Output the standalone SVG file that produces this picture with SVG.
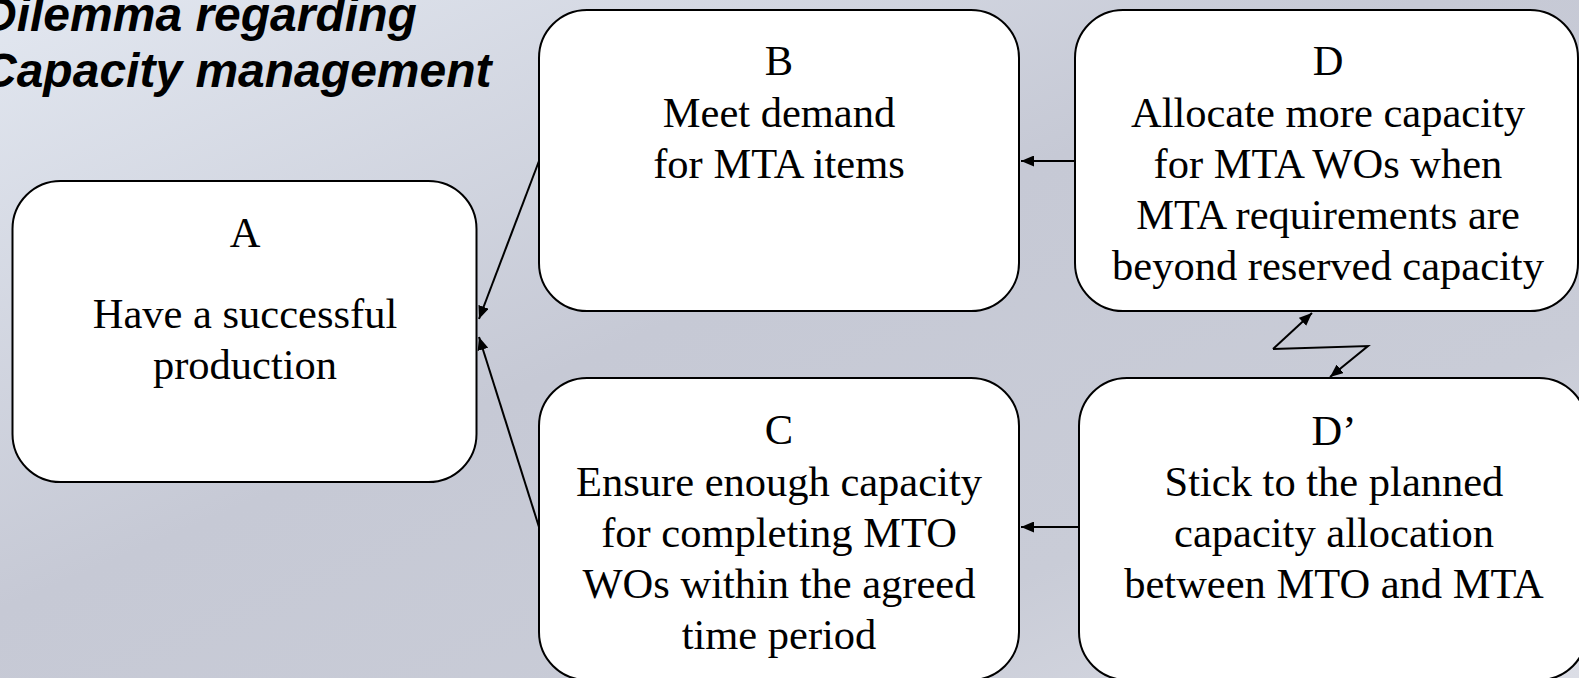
<svg xmlns="http://www.w3.org/2000/svg" width="1579" height="678" viewBox="0 0 1579 678">
  <defs>
    <linearGradient id="bg" x1="0" y1="0" x2="1" y2="1">
      <stop offset="0" stop-color="#e2e7f0"/>
      <stop offset="0.45" stop-color="#c6c9d5"/>
      <stop offset="0.75" stop-color="#c9ccd7"/>
      <stop offset="1" stop-color="#dcdee6"/>
    </linearGradient>
    <marker id="arrow" viewBox="0 0 13 11" refX="13" refY="5.5" markerWidth="13" markerHeight="11" markerUnits="userSpaceOnUse" orient="auto">
      <path d="M0,0 L13,5.5 L0,11 Z" fill="#000"/>
    </marker>
  </defs>
  <style>
    .box { fill: #ffffff; stroke: #000000; stroke-width: 2; }
    .lbl { font-family: "Liberation Serif", "Times New Roman", serif; font-size: 42.5px; fill: #000; text-anchor: middle; }
    .title { font-family: "Liberation Sans", Arial, sans-serif; font-size: 48px; font-weight: bold; font-style: italic; fill: #000; }
    .conn { fill: none; stroke: #000; stroke-width: 2; marker-end: url(#arrow); }
  </style>

  <rect width="1579" height="678" fill="url(#bg)"/>

  <g id="title">
    <text class="title" x="-18" y="31">Dilemma regarding</text>
    <text class="title" x="-18" y="87">Capacity management</text>
  </g>

  <g id="node-A">
    <rect class="box" x="12.5" y="181" width="464" height="301" rx="48" ry="48"/>
    <text class="lbl" x="245" y="247">A</text>
    <text class="lbl" x="245" y="328">Have a successful</text>
    <text class="lbl" x="245" y="379">production</text>
  </g>

  <g id="node-B">
    <rect class="box" x="539" y="10" width="480" height="301" rx="48" ry="48"/>
    <text class="lbl" x="779" y="75">B</text>
    <text class="lbl" x="779" y="127">Meet demand</text>
    <text class="lbl" x="779" y="178">for MTA items</text>
  </g>

  <g id="node-C">
    <rect class="box" x="539" y="378" width="480" height="302" rx="48" ry="48"/>
    <text class="lbl" x="779" y="444">C</text>
    <text class="lbl" x="779" y="496">Ensure enough capacity</text>
    <text class="lbl" x="779" y="547">for completing MTO</text>
    <text class="lbl" x="779" y="598">WOs within the agreed</text>
    <text class="lbl" x="779" y="649">time period</text>
  </g>

  <g id="node-D">
    <rect class="box" x="1075" y="10" width="503" height="301" rx="48" ry="48"/>
    <text class="lbl" x="1328" y="75">D</text>
    <text class="lbl" x="1328" y="127">Allocate more capacity</text>
    <text class="lbl" x="1328" y="178">for MTA WOs when</text>
    <text class="lbl" x="1328" y="229">MTA requirements are</text>
    <text class="lbl" x="1328" y="280">beyond reserved capacity</text>
  </g>

  <g id="node-D-prime">
    <rect class="box" x="1079" y="378" width="508" height="302" rx="48" ry="48"/>
    <text class="lbl" x="1334" y="445">D’</text>
    <text class="lbl" x="1334" y="496">Stick to the planned</text>
    <text class="lbl" x="1334" y="547">capacity allocation</text>
    <text class="lbl" x="1334" y="598">between MTO and MTA</text>
  </g>

  <g id="connectors">
    <line class="conn" x1="539" y1="161" x2="479" y2="319"/>
    <line class="conn" x1="539" y1="527" x2="479" y2="337"/>
    <line class="conn" x1="1075" y1="161" x2="1021" y2="161"/>
    <line class="conn" x1="1079" y1="527" x2="1021" y2="527"/>
    <!-- conflict zigzag between D and D' -->
    <polyline class="conn" points="1273,349 1368,346 1330,377"/>
    <line class="conn" x1="1273" y1="349" x2="1312" y2="313"/>
  </g>
</svg>
